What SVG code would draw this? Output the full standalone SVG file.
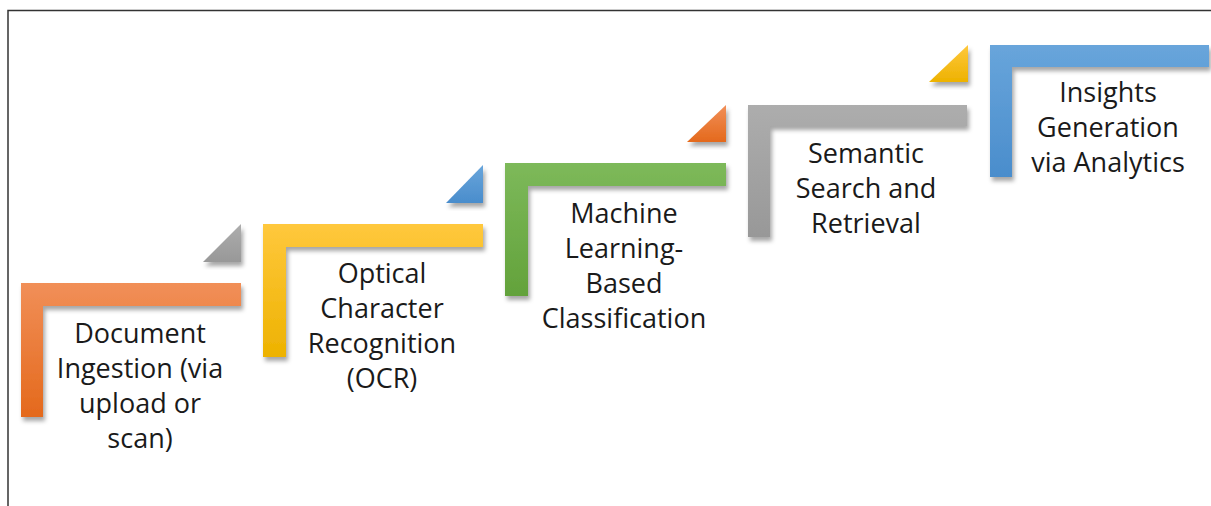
<svg xmlns="http://www.w3.org/2000/svg" width="1211" height="506" viewBox="0 0 1211 506">
<defs>
<filter id="sh" x="-20%" y="-20%" width="140%" height="140%">
<feDropShadow dx="2" dy="4" stdDeviation="2.2" flood-color="#000" flood-opacity="0.35"/>
</filter>
<linearGradient id="gO" x1="0" y1="0" x2="0" y2="1"><stop offset="0" stop-color="#F18F58"/><stop offset="1" stop-color="#E4691C"/></linearGradient>
<linearGradient id="gY" x1="0" y1="0" x2="0" y2="1"><stop offset="0" stop-color="#FFC83D"/><stop offset="1" stop-color="#EDB200"/></linearGradient>
<linearGradient id="gG" x1="0" y1="0" x2="0" y2="1"><stop offset="0" stop-color="#7DB95A"/><stop offset="1" stop-color="#63A23B"/></linearGradient>
<linearGradient id="gR" x1="0" y1="0" x2="0" y2="1"><stop offset="0" stop-color="#ADADAD"/><stop offset="1" stop-color="#989898"/></linearGradient>
<linearGradient id="gB" x1="0" y1="0" x2="0" y2="1"><stop offset="0" stop-color="#68A5DB"/><stop offset="1" stop-color="#4A8DCC"/></linearGradient>
</defs>
<style>
.t{font-family:"Open Sans","Noto Sans",sans-serif;font-size:27px;fill:#1a1a1a;text-anchor:middle}
.sh{filter:url(#sh)}
</style>
<rect width="1211" height="506" fill="#fff"/>
<path d="M8 506V10.5H1211" fill="none" stroke="#333" stroke-width="1.5"/>
<g id="connectors">
<polygon class="sh" points="241,224 241,262 203,262" fill="url(#gR)"/>
<polygon class="sh" points="483,165 483,203 446,203" fill="url(#gB)"/>
<polygon class="sh" points="726,105 726,142 687,142" fill="url(#gO)"/>
<polygon class="sh" points="968,45 968,82 929,82" fill="url(#gY)"/>
</g>
<g id="step1">
<path class="sh" d="M21 283H241V306H43V417H21Z" fill="url(#gO)"/>
<text class="t" x="140" y="343">Document</text>
<text class="t" x="140" y="378">Ingestion (via</text>
<text class="t" x="140" y="413">upload or</text>
<text class="t" x="140" y="448">scan)</text>
</g>
<g id="step2">
<path class="sh" d="M263 224H483V247H286V357H263Z" fill="url(#gY)"/>
<text class="t" x="382" y="283">Optical</text>
<text class="t" x="382" y="318">Character</text>
<text class="t" x="382" y="353">Recognition</text>
<text class="t" x="382" y="388">(OCR)</text>
</g>
<g id="step3">
<path class="sh" d="M505 163H726V186H528V296H505Z" fill="url(#gG)"/>
<text class="t" x="624" y="223">Machine</text>
<text class="t" x="624" y="258">Learning-</text>
<text class="t" x="624" y="293">Based</text>
<text class="t" x="624" y="328">Classification</text>
</g>
<g id="step4">
<path class="sh" d="M748 105H967V126H770V237H748Z" fill="url(#gR)"/>
<text class="t" x="866" y="163">Semantic</text>
<text class="t" x="866" y="198">Search and</text>
<text class="t" x="866" y="233">Retrieval</text>
</g>
<g id="step5">
<path class="sh" d="M990 45H1209V67H1012V177H990Z" fill="url(#gB)"/>
<text class="t" x="1108" y="102">Insights</text>
<text class="t" x="1108" y="137">Generation</text>
<text class="t" x="1108" y="172">via Analytics</text>
</g>
</svg>
